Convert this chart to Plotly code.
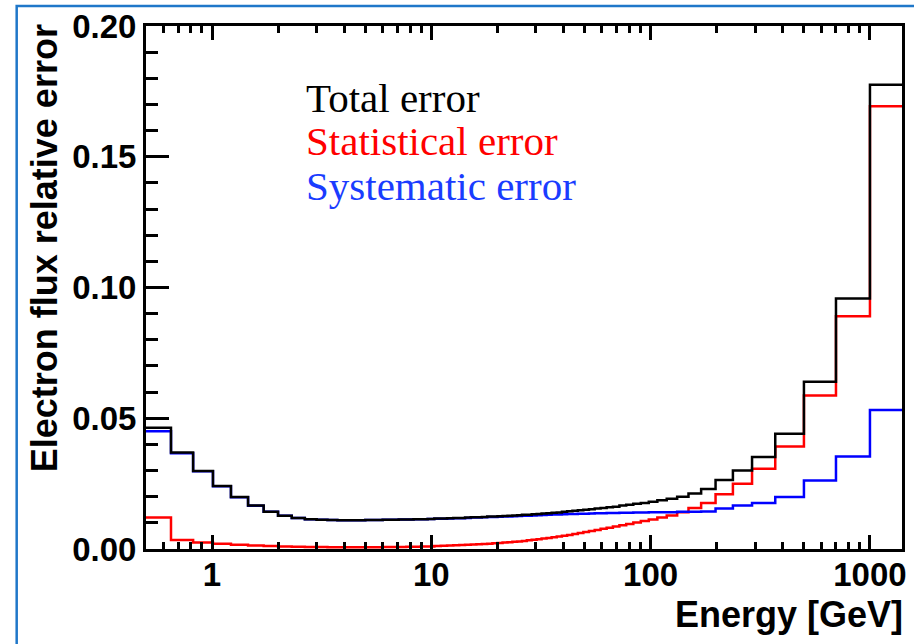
import plotly.graph_objects as go

# Energy bin edges [GeV]
bin_edges = [0.50, 0.65, 0.82, 1.01, 1.22, 1.46, 1.72, 2.00, 2.31, 2.65,
             3.00, 3.36, 3.73, 4.12, 4.54, 5.00, 5.49, 6.00, 6.54, 7.10,
             7.69, 8.30, 8.95, 9.62, 10.32, 11.04, 11.80, 12.59, 13.41, 14.25,
             15.14, 16.05, 17.00, 17.98, 18.99, 20.04, 21.13, 22.25, 23.42, 24.62,
             25.90, 27.25, 28.68, 30.21, 31.82, 33.53, 35.36, 37.31, 39.39, 41.61,
             44.00, 46.57, 49.33, 52.33, 55.58, 59.13, 63.02, 67.30, 72.05, 77.37,
             83.36, 90.19, 98.08, 107.3, 118.4, 132.1, 148.8, 169.9, 197.7, 237.2,
             290.0, 370.0, 500.0, 700.0, 1000.0, 1400.0]

total_error = [0.0464, 0.0369, 0.0298, 0.0241, 0.0199, 0.0166, 0.0142, 0.0127, 0.0119, 0.0114,
               0.0112, 0.0111, 0.0110, 0.0110, 0.0110, 0.0111, 0.0111, 0.0112, 0.0112, 0.0113,
               0.0113, 0.0114, 0.0114, 0.0115, 0.0117, 0.0117, 0.0118, 0.0119, 0.0119, 0.0120,
               0.0121, 0.0121, 0.0122, 0.0124, 0.0124, 0.0125, 0.0126, 0.0127, 0.0128, 0.0129,
               0.0131, 0.0131, 0.0133, 0.0134, 0.0136, 0.0137, 0.0139, 0.0140, 0.0142, 0.0144,
               0.0146, 0.0148, 0.0150, 0.0152, 0.0155, 0.0157, 0.0160, 0.0162, 0.0166, 0.0169,
               0.0173, 0.0176, 0.0181, 0.0186, 0.0192, 0.0200, 0.0212, 0.0229, 0.0264, 0.0300,
               0.0352, 0.0441, 0.0640, 0.0958, 0.1775]

stat_error = [0.0120, 0.0034, 0.0025, 0.0020, 0.0016, 0.0013, 0.0011, 0.0010, 0.0009, 0.0008,
              0.0008, 0.0007, 0.0007, 0.0007, 0.0007, 0.0007, 0.0007, 0.0008, 0.0008, 0.0008,
              0.0009, 0.0009, 0.0010, 0.0010, 0.0011, 0.0012, 0.0013, 0.0014, 0.0015, 0.0016,
              0.0017, 0.0018, 0.0019, 0.0020, 0.0022, 0.0023, 0.0025, 0.0026, 0.0028, 0.0029,
              0.0031, 0.0033, 0.0035, 0.0037, 0.0040, 0.0042, 0.0045, 0.0048, 0.0051, 0.0054,
              0.0057, 0.0061, 0.0065, 0.0069, 0.0073, 0.0077, 0.0081, 0.0086, 0.0091, 0.0096,
              0.0101, 0.0107, 0.0113, 0.0120, 0.0128, 0.0141, 0.0157, 0.0176, 0.0209, 0.0250,
              0.0307, 0.0392, 0.0587, 0.0890, 0.1693]

syst_error = [0.0450, 0.0366, 0.0297, 0.0240, 0.0198, 0.0165, 0.0142, 0.0127, 0.0119, 0.0114,
              0.0112, 0.0111, 0.0110, 0.0110, 0.0110, 0.0111, 0.0111, 0.0112, 0.0112, 0.0113,
              0.0113, 0.0114, 0.0114, 0.0115, 0.0116, 0.0116, 0.0117, 0.0118, 0.0118, 0.0119,
              0.0120, 0.0120, 0.0121, 0.0122, 0.0122, 0.0123, 0.0124, 0.0124, 0.0125, 0.0126,
              0.0127, 0.0127, 0.0128, 0.0129, 0.0130, 0.0131, 0.0132, 0.0132, 0.0133, 0.0134,
              0.0134, 0.0135, 0.0135, 0.0136, 0.0137, 0.0137, 0.0138, 0.0138, 0.0139, 0.0139,
              0.0140, 0.0140, 0.0141, 0.0141, 0.0141, 0.0142, 0.0142, 0.0143, 0.0155, 0.0166,
              0.0176, 0.0199, 0.0262, 0.0354, 0.0532]

x_tick_vals = [1, 10, 100, 1000]
x_tick_text = ["1", "10", "100", "1000"]
legend_labels = ["Total error", "Statistical error", "Systematic error"]

W, H = 914, 644
L, R, T, B = 146, 8, 23, 95
pw, ph = W - L - R, H - T - B

def px_x(px):
    return (px - L) / pw

def px_y(py):
    return (H - B - py) / ph

BLUE_LINE = "#0000ff"
RED_LINE = "#ff0000"

fig = go.Figure()
series = [(stat_error, RED_LINE), (syst_error, BLUE_LINE), (total_error, "#000000")]
for vals, col in series:
    fig.add_trace(go.Scatter(x=bin_edges, y=vals + [vals[-1]], mode="lines",
                             line=dict(color=col, width=2.5, shape="hv"),
                             showlegend=False, hoverinfo="skip"))

sans_bold = dict(family="Liberation Sans, Arial, sans-serif", size=33, color="black", weight="bold")
title_bold = dict(family="Liberation Sans, Arial, sans-serif", size=36, color="black", weight="bold")

fig.update_xaxes(type="log", range=[-0.30103, 3.14613],
                 tickvals=x_tick_vals, ticktext=x_tick_text,
                 ticks="inside", ticklen=14, tickwidth=2.5, tickcolor="black",
                 minor=dict(ticks="inside", ticklen=7, tickwidth=2.5, tickcolor="black", dtick="D1", showgrid=False),
                 showline=True, linewidth=3, linecolor="black", mirror="ticks",
                 showgrid=False, zeroline=False, tickfont=sans_bold, ticklabelstandoff=-6)
fig.update_yaxes(range=[0, 0.2], dtick=0.05, tickformat=".2f",
                 ticks="inside", ticklen=23, tickwidth=2.5, tickcolor="black",
                 minor=dict(ticks="inside", ticklen=12, tickwidth=2.5, tickcolor="black", dtick=0.01, showgrid=False),
                 showline=True, linewidth=3, linecolor="black", mirror=True,
                 showgrid=False, zeroline=False, tickfont=sans_bold)

annotations = []
leg_colors = ["#000000", "#ff0000", "#1a3cff"]
leg_y = [95, 139, 184]
for lab, c, yy in zip(legend_labels, leg_colors, leg_y):
    annotations.append(dict(text=lab, xref="paper", yref="paper", x=px_x(305), y=px_y(yy),
                            xanchor="left", yanchor="middle", showarrow=False,
                            font=dict(family="Liberation Serif, Times New Roman, serif", size=41, color=c)))
annotations.append(dict(text="Electron flux relative error", xref="paper", yref="paper",
                        x=px_x(44), y=px_y(247), xanchor="center", yanchor="middle",
                        textangle=-90, showarrow=False, font=title_bold))
annotations.append(dict(text="Energy [GeV]", xref="paper", yref="paper",
                        x=px_x(909), y=px_y(615), xanchor="right", yanchor="middle",
                        showarrow=False, font=title_bold))

fig.update_layout(width=W, height=H, margin=dict(l=L, r=R, t=T, b=B),
                  paper_bgcolor="white", plot_bgcolor="white",
                  annotations=annotations,
                  shapes=[dict(type="rect", xref="paper", yref="paper",
                               x0=px_x(16), x1=px_x(925), y0=px_y(660), y1=px_y(3),
                               line=dict(color="#1f77c9", width=2.5), layer="below")])

fig.write_html("out.html")
